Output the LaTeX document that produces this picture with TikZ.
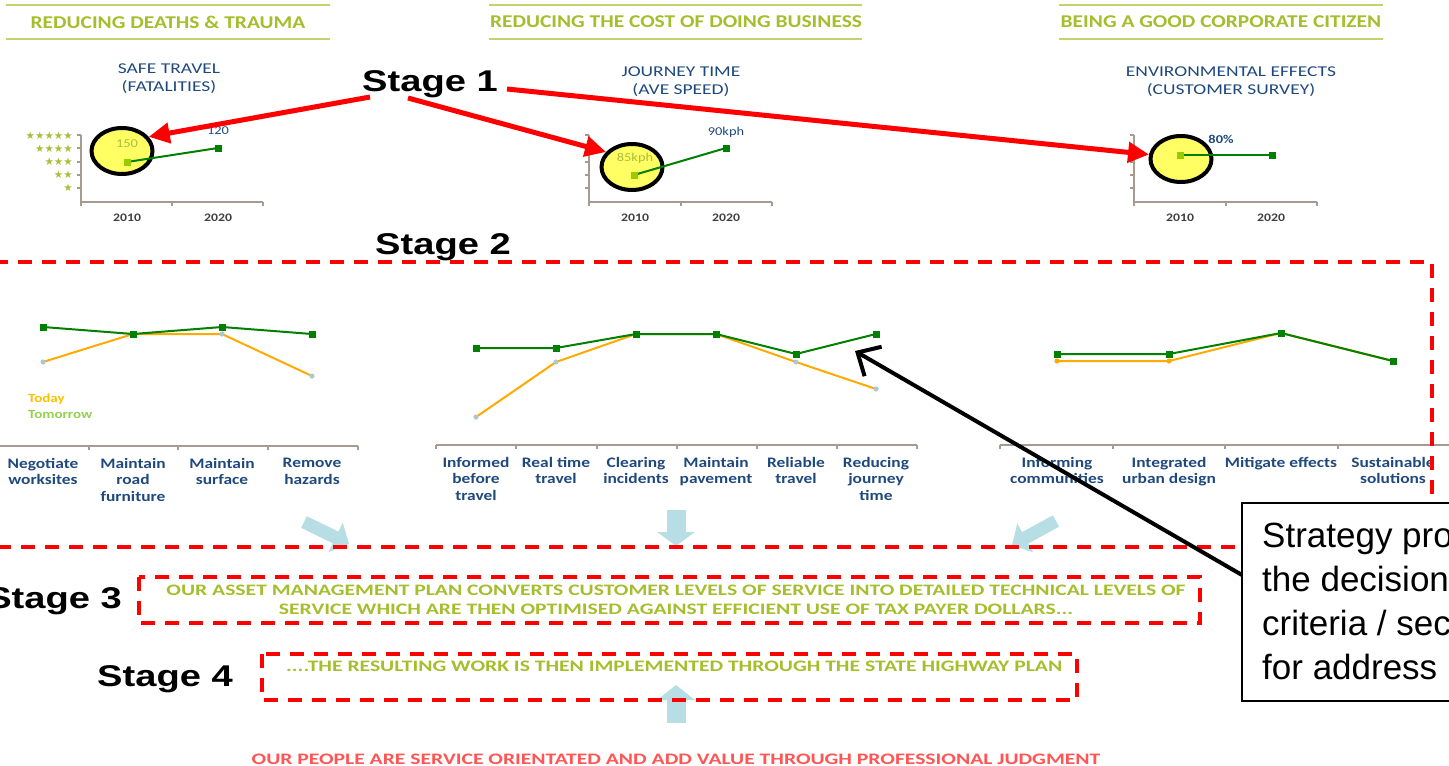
\documentclass[tikz,border=0pt]{standalone}
\usepackage{fontspec}
\usetikzlibrary{arrows.meta,shapes.geometric}
\setmainfont{Carlito}
\newfontfamily\calf[FakeStretch=1.2]{Carlito}
\newfontfamily\calh[FakeStretch=1.19]{Carlito}
\newfontfamily\calw[FakeStretch=1.3]{Carlito}
\newfontfamily\calp[FakeStretch=1.35]{Carlito}
\newfontfamily\arif[FakeStretch=1.27]{Liberation Sans}
\newfontfamily\arin{Liberation Sans}
\newfontfamily\symf{DejaVu Sans}
\definecolor{hdrc}{RGB}{165,190,45}
\definecolor{hdrl}{RGB}{195,210,110}
\definecolor{ttlc}{RGB}{31,73,125}
\definecolor{dkg}{RGB}{0,128,0}
\definecolor{ltg}{RGB}{153,204,0}
\definecolor{orc}{RGB}{255,170,0}
\definecolor{todc}{RGB}{255,192,0}
\definecolor{tomc}{RGB}{146,208,80}
\definecolor{axc}{RGB}{166,155,145}
\definecolor{lbl}{RGB}{183,222,228}
\definecolor{omk}{RGB}{175,200,205}
\definecolor{redc}{RGB}{255,0,0}
\definecolor{salc}{RGB}{255,85,85}
\definecolor{yelc}{RGB}{255,255,100}
\definecolor{yrc}{RGB}{64,64,64}
\definecolor{valc}{RGB}{170,190,60}
\tikzset{
  hdr/.style={font=\calh\bfseries\fontsize{18}{22}\selectfont, text=hdrc, inner sep=0},
  hdrline/.style={draw=hdrl, line width=1.8pt},
  ttl/.style={font=\calw\fontsize{15}{18}\selectfont, text=ttlc, align=center, inner sep=0},
  axisline/.style={draw=axc, line width=1.5pt},
  yr/.style={font=\calf\bfseries\fontsize{11.5}{13}\selectfont, text=yrc, inner sep=0},
  val/.style={font=\calf\fontsize{12}{14}\selectfont, inner sep=0},
  stars/.style={font=\symf\fontsize{10.5}{12}\selectfont, text=valc, inner sep=0, anchor=east},
  hilite/.style={ellipse, draw=black, line width=4pt, fill=yelc, inner sep=0},
  gline/.style={draw=dkg, line width=2pt},
  oline/.style={draw=orc, line width=2pt},
  stagetxt/.style={font=\arif\bfseries\fontsize{30}{34}\selectfont, text=black, inner sep=0},
  redarrow/.style={draw=redc, line width=5pt, -{Triangle[length=21pt,width=20pt]}},
  cat/.style={font=\calf\bfseries\fontsize{14.5}{16.5}\selectfont, text=ttlc, align=center, anchor=north, inner sep=0},
  legtxt/.style={font=\calf\bfseries\fontsize{12.5}{15}\selectfont, anchor=west, inner sep=0},
  reddash/.style={draw=redc, line width=4pt, dash pattern=on 14pt off 10pt},
  bluearrow/.style={draw=lbl, line width=#1},
  plan/.style={font=\calp\bfseries\fontsize{16}{19.5}\selectfont, text=hdrc, align=center, inner sep=0},
  callout/.style={draw=black, line width=2pt, fill=white, anchor=north west, minimum width=240pt, minimum height=198pt, inner sep=0},
  callouttxt/.style={font=\arin\fontsize{35}{44}\selectfont, text=black, align=left, anchor=north west, inner sep=0},
  blackarrow/.style={draw=black, line width=4pt, -{Straight Barb[length=18pt,width=34pt,line width=4pt]}}
}
\begin{document}
\begin{tikzpicture}[x=1pt,y=-1pt]
\useasboundingbox (0,0) rectangle (1449,766);
\clip (0,0) rectangle (1449,766);

% ---------- headers ----------
\draw[hdrline] (6,5) -- (330,5);
\draw[hdrline] (6,39) -- (330,39);
\node[hdr] (h1) at (168,22) {REDUCING DEATHS \& TRAUMA};
\draw[hdrline] (489,5) -- (862,5);
\draw[hdrline] (489,39) -- (862,39);
\node[hdr] (h2) at (676,22) {REDUCING THE COST OF DOING BUSINESS};
\draw[hdrline] (1059,5) -- (1383,5);
\draw[hdrline] (1059,39) -- (1383,39);
\node[hdr] (h3) at (1221,22) {BEING A GOOD CORPORATE CITIZEN};

% ---------- chart titles ----------
\node[ttl] (t1) at (169,79) {SAFE TRAVEL\\(FATALITIES)};
\node[ttl] (t2) at (681,82) {JOURNEY TIME\\(AVE SPEED)};
\node[ttl] (t3) at (1231,82) {ENVIRONMENTAL EFFECTS\\(CUSTOMER SURVEY)};

% ---------- chart 1 ----------
\node[hilite, minimum width=61pt, minimum height=46pt] (c1) at (122,151) {};
\draw[axisline] (81,135) -- (81,202) -- (263,202);
\foreach \yy in {135,148,162,175,188} \draw[axisline] (77,\yy) -- (81,\yy);
\foreach \xx in {81,172,263} \draw[axisline] (\xx,202) -- (\xx,206);
\node[stars] (s5) at (73,136) {★★★★★};
\node[stars] (s4) at (73,149) {★★★★};
\node[stars] (s3) at (73,162) {★★★};
\node[stars] (s2) at (73,175) {★★};
\node[stars] (s1) at (73,188) {★};
\draw[gline] (127,162) -- (218,148);
\fill[ltg] (123.5,158.5) rectangle (130.5,165.5);
\fill[dkg] (214.5,144.5) rectangle (221.5,151.5);
\node[val, text=valc] (v1a) at (127,144) {150};
\node[val, text=ttlc] (v1b) at (218,131) {120};
\node[yr] (y1a) at (127,218) {2010};
\node[yr] (y1b) at (218,218) {2020};

% ---------- chart 2 ----------
\node[hilite, minimum width=61pt, minimum height=46pt] (c2) at (632,167) {};
\draw[axisline] (589,135) -- (589,202) -- (772,202);
\foreach \yy in {135,148,162,175,188} \draw[axisline] (585,\yy) -- (589,\yy);
\foreach \xx in {589,681,772} \draw[axisline] (\xx,202) -- (\xx,206);
\draw[gline] (634,175) -- (726,148);
\fill[ltg] (630.5,171.5) rectangle (637.5,178.5);
\fill[dkg] (722.5,144.5) rectangle (729.5,151.5);
\node[val, text=valc] (v2a) at (635,158) {85kph};
\node[val, text=ttlc] (v2b) at (726,132) {90kph};
\node[yr] (y2a) at (635,218) {2010};
\node[yr] (y2b) at (726,218) {2020};

% ---------- chart 3 ----------
\node[hilite, minimum width=61pt, minimum height=46pt] (c3) at (1181,159) {};
\draw[axisline] (1134,135) -- (1134,202) -- (1317,202);
\foreach \yy in {135,148,162,175,188} \draw[axisline] (1130,\yy) -- (1134,\yy);
\foreach \xx in {1134,1226,1317} \draw[axisline] (\xx,202) -- (\xx,206);
\draw[gline] (1180,155) -- (1272,155);
\fill[ltg] (1176.5,151.5) rectangle (1183.5,158.5);
\fill[dkg] (1268.5,151.5) rectangle (1275.5,158.5);
\node[val, text=ttlc, font=\calf\bfseries\fontsize{12}{14}\selectfont] (v3b) at (1221,139) {80\%};
\node[yr] (y3a) at (1180,218) {2010};
\node[yr] (y3b) at (1271,218) {2020};

% ---------- stage 1 ----------
\node[stagetxt] (st1) at (430,84) {Stage 1};
\coordinate (a1s) at (370,97);
\coordinate (a2s) at (408,98);
\coordinate (a3s) at (507,89);
\draw[redarrow] (a1s) -- (c1.28);
\draw[redarrow] (a2s) -- (c2.150);
\draw[redarrow] (a3s) -- (c3.172);

\node[stagetxt] (st2) at (443,247) {Stage 2};

% ---------- stage 2 chart A ----------
\draw[axisline] (0,446) -- (358,446);
\foreach \xx in {89,178,268,358} \draw[axisline] (\xx,446) -- (\xx,450);
\draw[oline] (43,362) -- (133,334) -- (222,334) -- (312,376);
\foreach \xx/\yy in {43/362,133/334,222/334,312/376} \fill[omk] (\xx,\yy) circle (2.6);
\draw[gline] (43,327) -- (133,334) -- (222,327) -- (312,334);
\foreach \xx/\yy in {43/327,133/334,222/327,312/334} \fill[dkg] (\xx-3.5,\yy-3.5) rectangle (\xx+3.5,\yy+3.5);
\node[legtxt, text=todc] (lt) at (28,399) {Today};
\node[legtxt, text=tomc] (lm) at (28,414) {Tomorrow};
\node[cat] (ca1) at (43,458) {Negotiate\\worksites};
\node[cat] (ca2) at (133,458) {Maintain\\road\\furniture};
\node[cat] (ca3) at (222,458) {Maintain\\surface};
\node[cat] (ca4) at (312,458) {Remove\\hazards};

% ---------- stage 2 chart B ----------
\draw[axisline] (436,445) -- (917,445);
\foreach \xx in {436,516,597,677,757,837,917} \draw[axisline] (\xx,445) -- (\xx,449);
\draw[oline] (476,417) -- (556,362) -- (636,334) -- (716,334) -- (796,362) -- (876,389);
\foreach \xx/\yy in {476/417,556/362,636/334,716/334,796/362,876/389} \fill[omk] (\xx,\yy) circle (2.6);
\draw[gline] (476,348) -- (556,348) -- (636,334) -- (716,334) -- (796,354) -- (876,334);
\foreach \xx/\yy in {476/348,556/348,636/334,716/334,796/354,876/334} \fill[dkg] (\xx-3.5,\yy-3.5) rectangle (\xx+3.5,\yy+3.5);
\node[cat] (cb1) at (476,457) {Informed\\before\\travel};
\node[cat] (cb2) at (556,457) {Real time\\travel};
\node[cat] (cb3) at (636,457) {Clearing\\incidents};
\node[cat] (cb4) at (716,457) {Maintain\\pavement};
\node[cat] (cb5) at (796,457) {Reliable\\travel};
\node[cat] (cb6) at (876,457) {Reducing\\journey\\time};

% ---------- stage 2 chart C ----------
\draw[axisline] (1000,445) -- (1449,445);
\foreach \xx in {1000,1113,1225,1338} \draw[axisline] (\xx,445) -- (\xx,449);
\draw[oline] (1057,361) -- (1169,361) -- (1281,333) -- (1393,361);
\foreach \xx/\yy in {1057/361,1169/361} \fill[orc] (\xx,\yy) circle (2.6);
\draw[gline] (1057,354) -- (1169,354) -- (1281,333) -- (1393,361);
\foreach \xx/\yy in {1057/354,1169/354,1281/333,1393/361} \fill[dkg] (\xx-3.5,\yy-3.5) rectangle (\xx+3.5,\yy+3.5);
\node[cat] (cc1) at (1057,457) {Informing\\communities};
\node[cat] (cc2) at (1169,457) {Integrated\\urban design};
\node[cat] (cc3) at (1281,457) {Mitigate effects};
\node[cat] (cc4) at (1393,457) {Sustainable\\solutions};

% ---------- light blue arrows ----------
\draw[bluearrow=13pt, -{Triangle[length=15pt,width=32pt]}] (304,522) -- (349,544);
\draw[bluearrow=19pt, -{Triangle[length=14pt,width=37pt]}] (676,510) -- (676,546);
\draw[bluearrow=13pt, -{Triangle[length=15pt,width=32pt]}] (1056,521) -- (1012,545);
\draw[bluearrow=19pt, -{Triangle[length=15pt,width=37pt]}] (676,723) -- (676,685);

% ---------- stage 2 dashed box ----------
\draw[reddash] (-6,262) -- (1432,262) -- (1432,547) -- (-6,547);

% ---------- stage 3 ----------
\node[stagetxt, anchor=east] (st3) at (122,601) {Stage 3};
\draw[reddash] (139,577) rectangle (1200,623);
\node[plan] (p3) at (676,600) {OUR ASSET MANAGEMENT PLAN CONVERTS CUSTOMER LEVELS OF SERVICE INTO DETAILED TECHNICAL LEVELS OF\\SERVICE WHICH ARE THEN OPTIMISED AGAINST EFFICIENT USE OF TAX PAYER DOLLARS...};

% ---------- stage 4 ----------
\node[stagetxt] (st4) at (165,679) {Stage 4};
\draw[reddash] (262,654) rectangle (1077,700);
\node[plan, anchor=west] (p4) at (286,666) {....THE RESULTING WORK IS THEN IMPLEMENTED THROUGH THE STATE HIGHWAY PLAN};

% ---------- bottom ----------
\node[plan, text=salc] (pb) at (676,759) {OUR PEOPLE ARE SERVICE ORIENTATED AND ADD VALUE THROUGH PROFESSIONAL JUDGMENT};

% ---------- callout ----------
\node[callout] (cbx) at (1241,502) {};
\node[callouttxt] (ctx) at (1262,523) {Strategy pro\\the decision\\criteria / sec\\for address};
\coordinate (bas) at (1242,575);
\coordinate (bat) at (855,351);
\draw[blackarrow] (bas) -- (bat);
\end{tikzpicture}
\end{document}
